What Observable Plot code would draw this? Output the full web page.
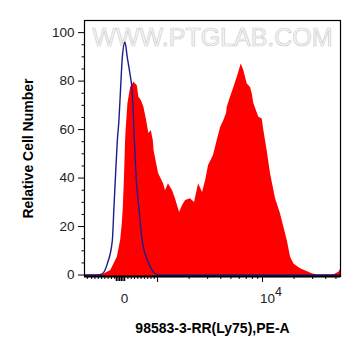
<!DOCTYPE html>
<html><head><meta charset="utf-8">
<script src="https://cdn.jsdelivr.net/npm/d3@7"></script>
<script src="https://cdn.jsdelivr.net/npm/@observablehq/plot@0.6"></script>
<style>html,body{margin:0;padding:0;background:#fff;}</style>
</head><body><div id="chart"></div>
<script>
// ---- data (fluorescence intensity, relative cell number) ----
const redX = [-1170, -680, -420, -221, -121, -70, -39, 0, 30, 45, 100, 182, 282, 385, 433, 506, 585, 667, 736, 809, 870, 894, 970, 1022, 1140, 1190, 1270, 1390, 1480, 1620, 1730, 1850, 2060, 2250, 2460, 2680, 2870, 3060, 3410, 3700, 3980, 4280, 4540, 4610, 4950, 5330, 5740, 6270, 6640, 7150, 7690, 7980, 8270, 9220, 9930, 10290, 10670, 11070, 11900, 13300, 14800, 17200, 18500, 19900, 23000, 29700, 33200, 47500, 53300, 56000];
const redY = [0, 0, 1.9, 7.3, 14.2, 21.2, 28, 41.9, 55.5, 59.6, 70.7, 77.4, 79.5, 78.1, 73.3, 72, 69.2, 63.7, 58.4, 59.6, 55.5, 51.3, 46, 41.9, 37.7, 34.8, 37.7, 34.8, 31.5, 25.8, 28.7, 30.7, 31.5, 29.9, 37.7, 34, 39, 45.2, 49.3, 55.5, 60.8, 63.7, 66.6, 69.2, 73.3, 77.4, 81.6, 87.1, 84.3, 78.8, 77.4, 74.7, 70.7, 65.1, 64.4, 59.6, 55.5, 51.3, 41.9, 31.5, 25.4, 14.2, 7.3, 4.6, 2.6, 0.5, 0, 0, 1.2, 2.7];
const blueX = [-1170, -827, -676, -524, -373, -324, -273, -221, -173, -121, -70, 9, 82, 161, 227, 273, 303, 342, 433, 536, 736, 939, 1029, 56000];
const blueY = [0, 0, 0.5, 4.7, 14.2, 27.8, 41.9, 55.5, 63.7, 77.3, 89.7, 96, 89.7, 83.1, 76.1, 63.7, 53.4, 41.9, 27.8, 14.2, 4.7, 0.5, 0, 0];

// ---- axes ----
const xDomain = [-1170, 55300];
const yDomain = [-0.6, 105];
const xMajorTicks = [1000, 10000];
const xMidTicks = [-250, -200, -150, -100, -50, 0];
const xMinorTicks = [-1100, -1000, -900, -800, -700, -600, -500, -400, -300, 100, 200, 300, 400, 500, 600, 700, 800, 900, 2000, 3000, 4000, 5000, 6000, 7000, 8000, 9000, 20000, 30000, 40000, 50000];
const xLabelValues = [0, 10000];
const xLabelTexts = ["0", "10"];
const xLabelExponent = ["4"];
const yMajorTicks = [0, 20, 40, 60, 80, 100];
const yMinorTicks = [5, 10, 15, 25, 30, 35, 45, 50, 55, 65, 70, 75, 85, 90, 95];
const xTitle = "98583-3-RR(Ly75),PE-A";
const yTitle = "Relative Cell Number";
const watermark = "WWW.PTGLAB.COM";

// biexponential-style display transform (linear near zero, log above 10^3)
const LIN = 1000, LINW = 0.314;
function biex(v) {
  const a = Math.abs(v);
  const d = a <= LIN ? LINW * a / LIN : LINW + Math.log10(a / LIN);
  return Math.sign(v) * d;
}

const red = redX.map((x, i) => ({x: biex(x), y: redY[i]}));
const blue = blueX.map((x, i) => ({x: biex(x), y: blueY[i]}));
const font = "Liberation Sans, Arial, Helvetica, sans-serif";
const blank = () => "";

const chart = Plot.plot({
  width: 361, height: 356,
  marginLeft: 84, marginRight: 21, marginTop: 20, marginBottom: 80,
  style: {fontFamily: font, background: "white", color: "#222", overflow: "visible"},
  x: {type: "linear", domain: xDomain.map(biex)},
  y: {type: "linear", domain: yDomain},
  marks: [
    Plot.text([watermark], {frameAnchor: "top", dy: 17, lineAnchor: "middle", fontSize: 25, fill: "#f8f8f8", stroke: "#cccccc", strokeWidth: 0.7, paintOrder: "fill"}),
    Plot.areaY(red, {x: "x", y1: yDomain[0], y2: "y", fill: "#ff0000", clip: true}),
    Plot.line(blue, {x: "x", y: "y", stroke: "#1c1c8c", strokeWidth: 1.4, curve: "monotone-x", clip: true}),
    Plot.frame({stroke: "#000", strokeWidth: 1.2}),
    Plot.ruleY([yDomain[0]], {stroke: "#000", strokeWidth: 1.8}),
    Plot.axisY(yMajorTicks, {anchor: "left", tickSize: 6, tickPadding: 4, fontSize: 13.5, label: null, stroke: "#000", fill: "#222"}),
    Plot.axisY(yMinorTicks, {anchor: "left", tickSize: 2.5, tickFormat: blank, label: null, stroke: "#000"}),
    Plot.axisX(xMajorTicks.map(biex), {anchor: "bottom", tickSize: 6, tickFormat: blank, label: null, stroke: "#000"}),
    Plot.axisX(xMidTicks.map(biex), {anchor: "bottom", tickSize: 5, tickFormat: blank, label: null, stroke: "#000", strokeWidth: 1.3}),
    Plot.axisX(xMinorTicks.map(biex), {anchor: "bottom", tickSize: 3, tickFormat: blank, label: null, stroke: "#000"}),
    Plot.text([xLabelValues[0]], {x: d => biex(d), text: () => xLabelTexts[0], frameAnchor: "bottom", dy: 22, lineAnchor: "middle", fontSize: 13.5, fill: "#222"}),
    Plot.text([xLabelValues[1]], {x: d => biex(d), text: () => xLabelTexts[1], frameAnchor: "bottom", dy: 22, dx: 5, lineAnchor: "middle", fontSize: 13.5, fill: "#222"}),
    Plot.text([xLabelValues[1]], {x: d => biex(d), text: () => xLabelExponent[0], frameAnchor: "bottom", dy: 15, dx: 16, lineAnchor: "middle", fontSize: 12.5, fill: "#222"}),
    Plot.text([yTitle], {frameAnchor: "left", textAnchor: "middle", rotate: -90, dx: -56, fontSize: 14, fontWeight: "bold", fill: "#000"}),
    Plot.text([xTitle], {frameAnchor: "bottom", dy: 52.5, lineAnchor: "middle", fontSize: 14, fontWeight: "bold", fill: "#000"})
  ]
});
document.getElementById("chart").append(chart);
</script>
</body></html>
